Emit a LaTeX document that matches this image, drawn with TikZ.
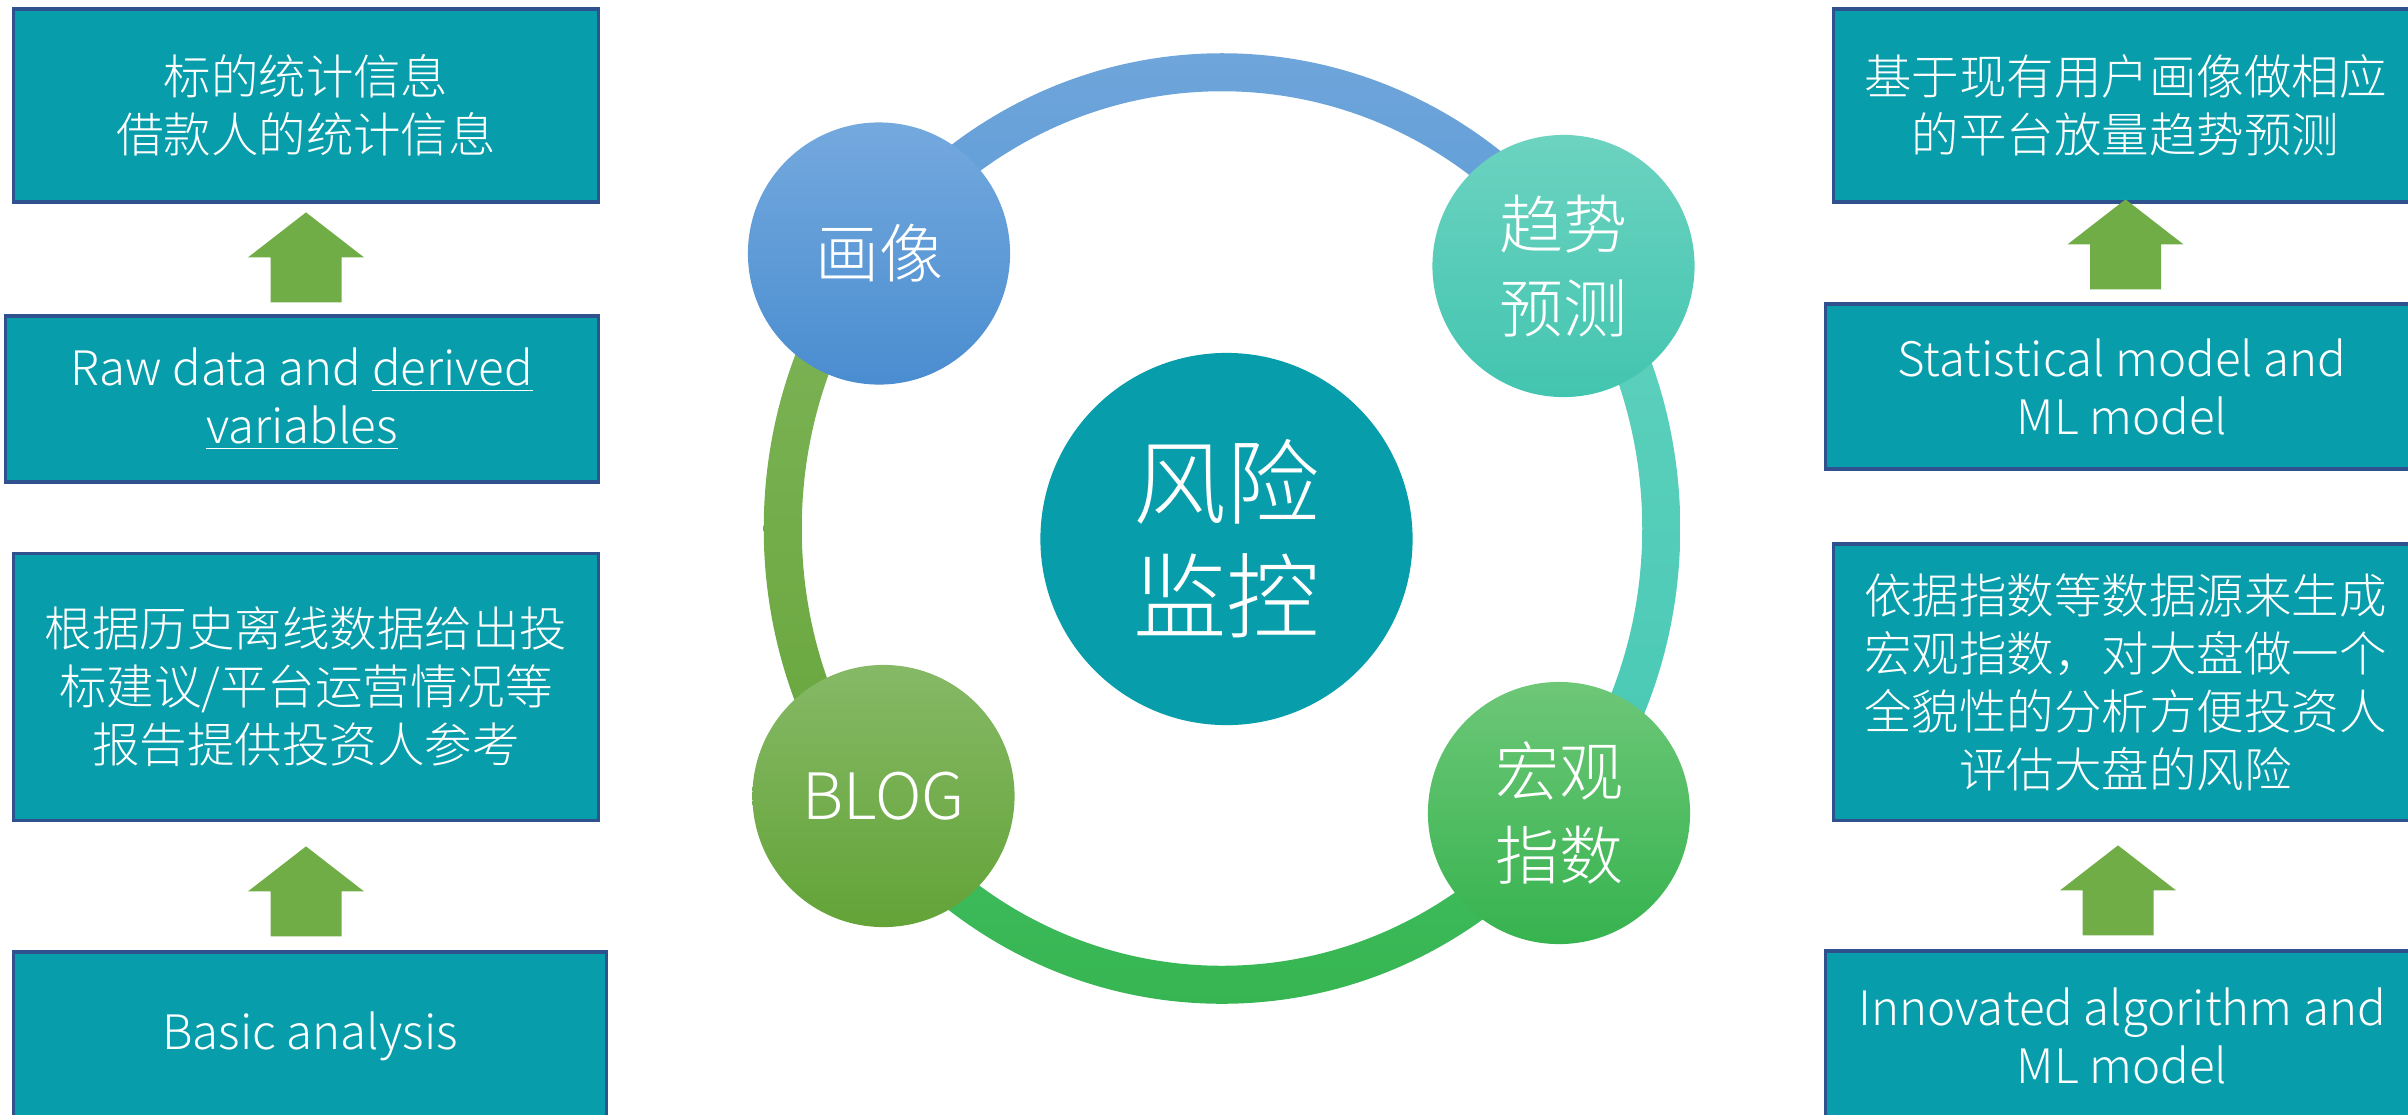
\documentclass[tikz,border=0pt]{standalone}
\usepackage{fontspec}
\setmainfont{Noto Sans CJK SC Light}
\usetikzlibrary{calc}

\pgfdeclarelayer{bg}
\pgfsetlayers{bg,main}

\definecolor{boxfill}{HTML}{089DAA}
\definecolor{boxline}{HTML}{2F528F}
\definecolor{arrowgreen}{HTML}{70AD47}
\definecolor{hxtop}{HTML}{74A9DE}
\definecolor{hxbot}{HTML}{4A8DD0}
\definecolor{qstop}{HTML}{6CD3C0}
\definecolor{qsbot}{HTML}{42C5B0}
\definecolor{blogtop}{HTML}{86B966}
\definecolor{blogbot}{HTML}{63A337}
\definecolor{hgtop}{HTML}{6DC777}
\definecolor{hgbot}{HTML}{36B34F}

\tikzset{
  infobox/.style={rectangle,draw=boxline,line width=0.9pt,fill=boxfill,text=white,
    inner sep=0pt,align=center,font=\fontsize{13.5pt}{16.5pt}\selectfont},
  bubble/.style={circle,minimum size=2.62cm,inner sep=0pt,text=white,align=center,
    font=\fontsize{18.2pt}{23.9pt}\selectfont},
  uparrow/.pic={
    \fill[arrowgreen] (-35.5,0) -- (-35.5,-45) -- (-58,-45) -- (0,-90)
      -- (58,-45) -- (35.5,-45) -- (35.5,0) -- cycle;
  }
}

\begin{document}
\begin{tikzpicture}[x=0.01cm,y=-0.01cm]

  \useasboundingbox (0,0) rectangle (2408,1114);
  \clip (0,0) rectangle (2408,1114);

  % left column
  \node[infobox,minimum width=5.84cm,minimum height=1.93cm] (l1) at (306,105.5) {标的统计信息\\借款人的统计信息};
  \node[infobox,minimum width=5.92cm,minimum height=1.66cm] (l2) at (302,399) {Raw data and \underline{derived}\\\underline{variables}};
  \node[infobox,minimum width=5.84cm,minimum height=2.67cm] (l3) at (306,687) {根据历史离线数据给出投\\标建议/平台运营情况等\\报告提供投资人参考};
  \node[infobox,minimum width=5.92cm,minimum height=1.68cm] (l4) at (310,1036) {Basic analysis};

  % right column
  \node[infobox,minimum width=5.83cm,minimum height=1.93cm] (r1) at (2125.5,105.5) {基于现有用户画像做相应\\的平台放量趋势预测};
  \node[infobox,minimum width=5.92cm,minimum height=1.65cm] (r2) at (2122,386.5) {Statistical model and\\ML model};
  \node[infobox,minimum width=5.83cm,minimum height=2.76cm] (r3) at (2125.5,682) {依据指数等数据源来生成\\宏观指数，对大盘做一个\\全貌性的分析方便投资人\\评估大盘的风险};
  \node[infobox,minimum width=5.92cm,minimum height=1.69cm] (r4) at (2122,1035.5) {Innovated algorithm and\\ML model};

  % block arrows
  \pic (a1) at ($(l1.south |- l2.north)+(0,-12)$) {uparrow};
  \pic (a2) at ($(l3.south |- l4.north)+(0,-14)$) {uparrow};
  \pic (a3) at ($(r1.south |- r2.north)+(0,-13)$) {uparrow};
  \pic (a4) at ($(r4.north)+(-4,-14)$) {uparrow};

  % bubbles
  \coordinate (c) at (1222,528.5);
  \node[bubble,top color=hxtop,bottom color=hxbot] (hx) at (879,253.5) {画像};
  \node[bubble,top color=qstop,bottom color=qsbot] (qs) at (1563.5,266) {趋势\\预测};
  \node[bubble,top color=blogtop,bottom color=blogbot] (blog) at (883.5,796) {BLOG};
  \node[bubble,top color=hgtop,bottom color=hgbot] (hg) at (1559,813) {宏观\\指数};
  \node[circle,minimum size=3.72cm,fill=boxfill,text=white,align=center,
    font=\fontsize{26.5pt}{32.4pt}\selectfont] (fx) at (1226.5,539) {风险\\监控};

  % ring segments between the bubbles
  \begin{pgfonlayer}{bg}
  \foreach \p/\q/\far/\ctop/\cbot/\rect in {
      hx/qs/{0,-900}/70A6DB/5A9AD6/{(800,30) rectangle (1650,320)},
      hx/blog/{-900,0}/80B55A/66A53A/{(700,200) rectangle (950,860)},
      blog/hg/{0,900}/43BF61/35B451/{(800,760) rectangle (1650,1030)},
      hg/qs/{900,0}/62D2BE/45C8B4/{(1500,200) rectangle (1720,860)}} {
    \begin{scope}
      \clip (c) -- ($(c)!2!(\p)$) -- ($(c)+(\far)$) -- ($(c)!2!(\q)$) -- cycle;
      \begin{scope}[even odd rule]
        \clip (c) ellipse [x radius=4.58cm,y radius=4.75cm]
          (c) ellipse [x radius=4.2cm,y radius=4.37cm];
        \definecolor{segtop}{HTML}{\ctop}
        \definecolor{segbot}{HTML}{\cbot}
        \shade[top color=segtop,bottom color=segbot] \rect;
      \end{scope}
    \end{scope}
  }
  \end{pgfonlayer}

\end{tikzpicture}
\end{document}
